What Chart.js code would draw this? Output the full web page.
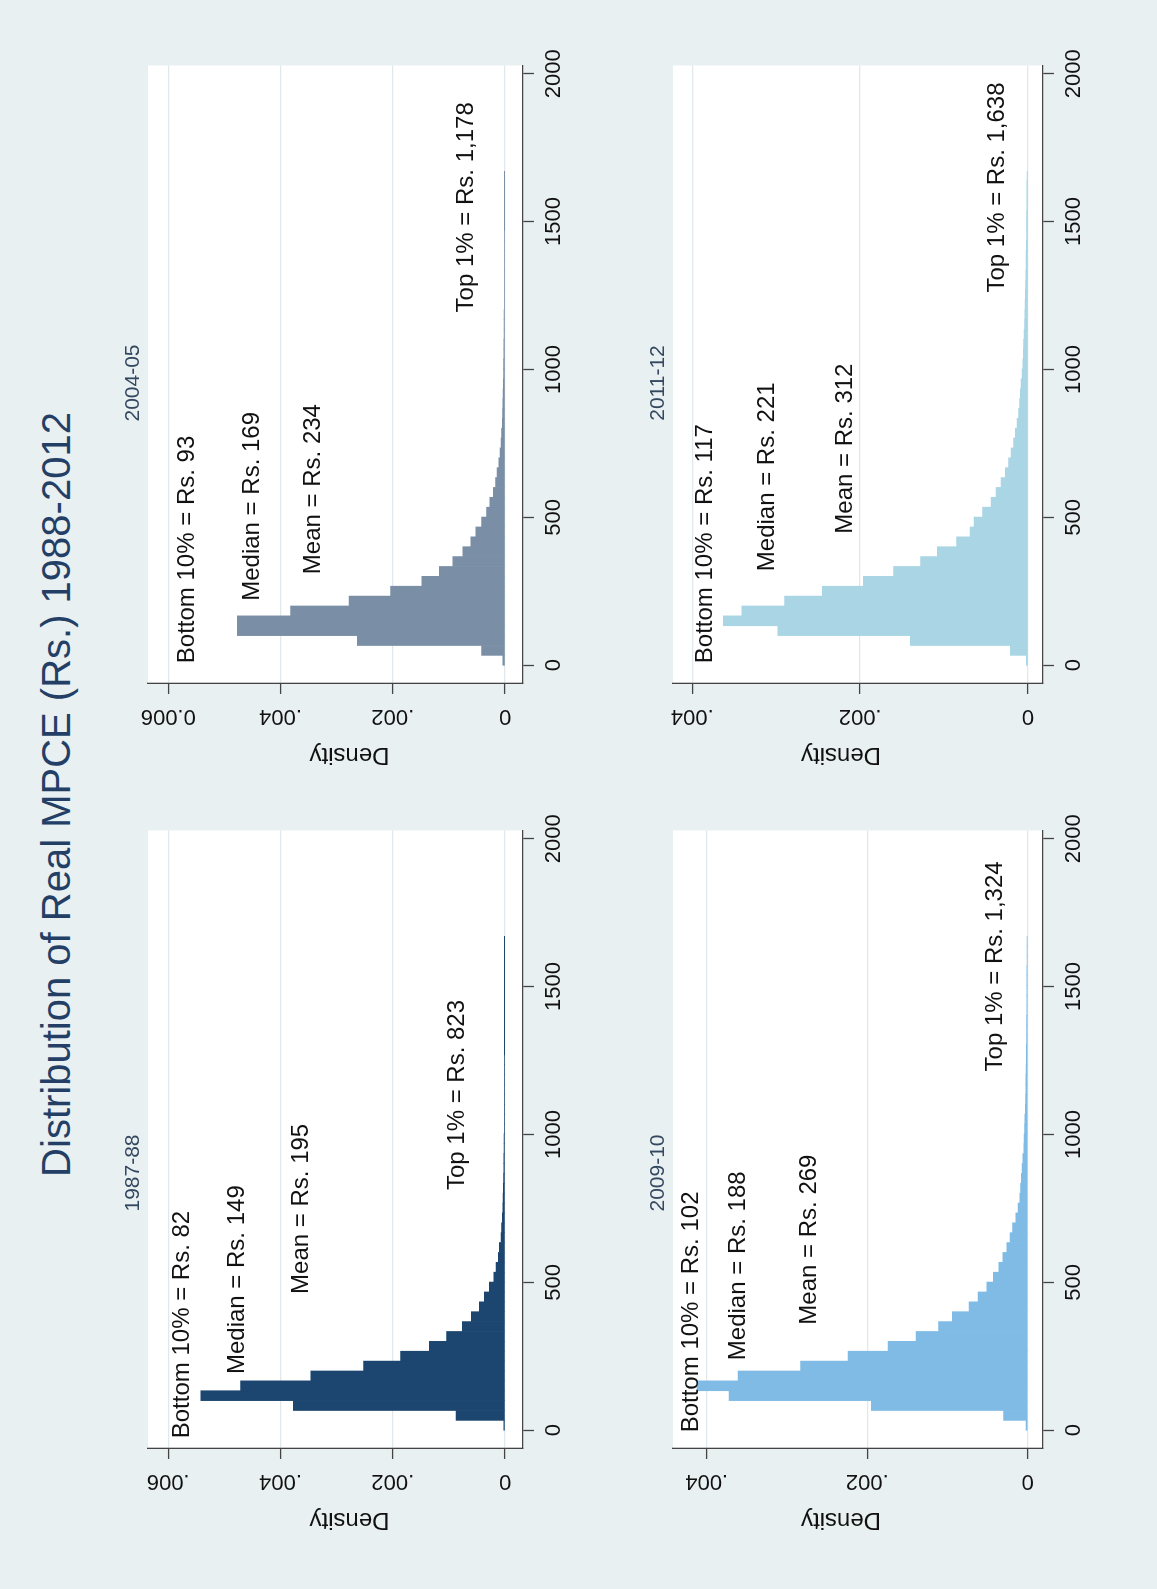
<!DOCTYPE html>
<html>
<head>
<meta charset="utf-8">
<script src="https://cdn.jsdelivr.net/npm/chart.js@4.4.0/dist/chart.umd.min.js"></script>
<style>
html, body { margin: 0; padding: 0; overflow: hidden; background: #e9f0f2; }
body { width: 1157px; height: 1589px; position: relative; }
#page {
    position: absolute; left: 0; top: 0;
    width: 1589px; height: 1157px;
    transform-origin: 0 0;
    transform: translate(0, 1589px) rotate(-90deg);
    background: #e9f0f2;
}
#title {
    position: absolute; left: 0; top: 34px; width: 1589px;
    text-align: center; line-height: 48px;
    font: 40px "Liberation Sans", Arial, sans-serif;
    color: #243f66;
}
canvas { position: absolute; }
</style>
</head>
<body>
<div id="page">
    <div id="title">Distribution of Real MPCE (Rs.) 1988-2012</div>
    <canvas id="chart1"></canvas>
    <canvas id="chart2"></canvas>
    <canvas id="chart3"></canvas>
    <canvas id="chart4"></canvas>
</div>
<script>
// histogram bins (Rs.), 50 bins starting at 0
const binStart = 0;
const binWidth = 33.4;

const years = ['1987-88', '2004-05', '2009-10', '2011-12'];
const xTicks = [0, 500, 1000, 1500, 2000];
const xTickLabels = ['0', '500', '1000', '1500', '2000'];

// density per bin
const density8788 = [
    0.00002, 0.00087, 0.00377, 0.00542, 0.00471, 0.00346, 0.00252, 0.00186, 0.00135, 0.00104,
    0.00076, 0.00060, 0.00046, 0.00037, 0.00028, 0.00020, 0.00016, 0.00012, 0.00010, 0.00007,
    0.00006, 0.00005, 0.00004, 0.000035, 0.00003, 0.000025, 0.000022, 0.00002, 0.000018, 0.000016,
    0.000014, 0.000013, 0.000012, 0.000011, 0.00001, 0.00001, 0.000009, 0.000009, 0.000008, 0.000008,
    0.000007, 0.000007, 0.000007, 0.000006, 0.000006, 0.000006, 0.000006, 0.000005, 0.000005, 0.000005
];
const density0405 = [
    0.00004, 0.00042, 0.00263, 0.00477, 0.00477, 0.00382, 0.00278, 0.00204, 0.00148, 0.00117,
    0.00093, 0.00075, 0.00061, 0.00052, 0.00042, 0.00033, 0.00027, 0.00021, 0.00017, 0.00014,
    0.00011, 0.00009, 0.00007, 0.00006, 0.00005, 0.000045, 0.00004, 0.000035, 0.00003, 0.000027,
    0.000024, 0.000022, 0.00002, 0.000018, 0.000016, 0.000015, 0.000014, 0.000013, 0.000012, 0.000011,
    0.00001, 0.00001, 0.000009, 0.000009, 0.000008, 0.000008, 0.000008, 0.000007, 0.000007, 0.000007
];
const density0910 = [
    0.00002, 0.00030, 0.00195, 0.00372, 0.00412, 0.00361, 0.00283, 0.00224, 0.00174, 0.00139,
    0.00111, 0.00094, 0.00073, 0.00062, 0.00051, 0.00043, 0.00036, 0.00031, 0.00026, 0.00022,
    0.00019, 0.00015, 0.00012, 0.00010, 0.00009, 0.00008, 0.00007, 0.00006, 0.00005, 0.000045,
    0.00004, 0.000035, 0.00003, 0.000028, 0.000025, 0.000023, 0.000021, 0.000019, 0.000017, 0.000016,
    0.000015, 0.000014, 0.000013, 0.000012, 0.000011, 0.00001, 0.00001, 0.000009, 0.000009, 0.000008
];
const density1112 = [
    0.00002, 0.00021, 0.00140, 0.00298, 0.00363, 0.00341, 0.00290, 0.00245, 0.00196, 0.00160,
    0.00128, 0.00108, 0.00085, 0.00069, 0.00064, 0.00054, 0.00044, 0.00038, 0.00032, 0.00027,
    0.00023, 0.00020, 0.00017, 0.00015, 0.00013, 0.00011, 0.00010, 0.00009, 0.00008, 0.00007,
    0.00006, 0.000055, 0.00005, 0.000045, 0.00004, 0.000036, 0.000033, 0.00003, 0.000027, 0.000025,
    0.000023, 0.000021, 0.000019, 0.000017, 0.000016, 0.000015, 0.000014, 0.000013, 0.000012, 0.000011
];

// y tick values and their labels
const yTicksTop = [0, 0.002, 0.004, 0.006];
const yTicksBottom = [0, 0.002, 0.004];
const yLabels8788 = ['0', '.002', '.004', '.006'];
const yLabels0405 = ['0', '.002', '.004', '0.006'];
const yLabels0910 = ['0', '.002', '.004'];
const yLabels1112 = ['0', '.002', '.004'];

// text notes: label, Rs. position, density position
const notes8788 = ['Bottom 10% = Rs. 82', 'Median = Rs. 149', 'Mean = Rs. 195', 'Top 1% = Rs. 823'];
const notesX8788 = [-27, 190, 461, 812];
const notesY8788 = [0.00575, 0.00476, 0.00362, 0.00085];
const notes0405 = ['Bottom 10% = Rs. 93', 'Median = Rs. 169', 'Mean = Rs. 234', 'Top 1% = Rs. 1,178'];
const notesX0405 = [7, 218, 308, 1193];
const notesY0405 = [0.00565, 0.0045, 0.00342, 0.00069];
const notes0910 = ['Bottom 10% = Rs. 102', 'Median = Rs. 188', 'Mean = Rs. 269', 'Top 1% = Rs. 1,324'];
const notesX0910 = [-7, 237, 357, 1213];
const notesY0910 = [0.00419, 0.00361, 0.00272, 0.0004];
const notes1112 = ['Bottom 10% = Rs. 117', 'Median = Rs. 221', 'Mean = Rs. 312', 'Top 1% = Rs. 1,638'];
const notesX1112 = [7, 318, 445, 1260];
const notesY1112 = [0.00385, 0.0031, 0.00218, 0.00036];

const FONT = '"Liberation Sans", Arial, sans-serif';
Chart.defaults.font.family = FONT;

// white plot region
const plotBg = {
    id: 'plotBg',
    beforeDraw(chart) {
        const a = chart.chartArea;
        chart.ctx.save();
        chart.ctx.fillStyle = '#ffffff';
        chart.ctx.fillRect(a.left, a.top, a.right - a.left, a.bottom - a.top);
        chart.ctx.restore();
    }
};

// text annotations in data coordinates, the panel year and the y axis title
const notesPlugin = {
    id: 'notes',
    afterDatasetsDraw(chart, args, opts) {
        const ctx = chart.ctx;
        const a = chart.chartArea;
        const xs = chart.scales.x, ys = chart.scales.y;
        ctx.save();
        ctx.font = '24px ' + FONT;
        ctx.fillStyle = '#111111';
        ctx.textAlign = 'left';
        ctx.textBaseline = 'middle';
        opts.text.forEach((t, i) => {
            ctx.fillText(t, xs.getPixelForValue(opts.x[i]), ys.getPixelForValue(opts.y[i]));
        });

        // panel year
        ctx.font = '21px ' + FONT;
        ctx.fillStyle = '#33475f';
        ctx.textAlign = 'center';
        ctx.fillText(opts.year, a.left + opts.yearAt, a.top - 15);

        // "Density" axis title
        ctx.font = '24px ' + FONT;
        ctx.fillStyle = '#111111';
        ctx.translate(a.left - 72, (a.top + a.bottom) / 2 + opts.titleShift);
        ctx.rotate(-Math.PI / 2);
        ctx.fillText('Density', 0, 0);
        ctx.restore();
    }
};

function binData(values) {
    return values.map((v, i) => ({ x: binStart + binWidth * (i + 0.5), y: v }));
}

function makeChart(id, p) {
    const cv = document.getElementById(id);
    const w = p.area[2] - p.area[0] + 127;
    const h = p.area[3] - p.area[1] + 120;
    cv.width = w;
    cv.height = h;
    cv.style.left = (p.area[0] - 111) + 'px';
    cv.style.top = (p.area[1] - 45) + 'px';

    return new Chart(cv, {
        type: 'bar',
        data: {
            datasets: [{
                data: binData(p.values),
                backgroundColor: p.color,
                borderWidth: 0,
                barPercentage: 1,
                categoryPercentage: 1
            }]
        },
        options: {
            responsive: false,
            animation: false,
            events: [],
            layout: { padding: { left: 20, right: 16, top: 45, bottom: 0 } },
            plugins: {
                legend: { display: false },
                tooltip: { enabled: false },
                title: { display: false },
                notes: {
                    text: p.notes, x: p.notesX, y: p.notesY,
                    year: p.year, yearAt: p.yearAt, titleShift: p.titleShift
                }
            },
            scales: {
                x: {
                    type: 'linear',
                    min: -60,
                    max: 2028,
                    offset: false,
                    afterBuildTicks: s => { s.ticks = xTicks.map(v => ({ value: v })); },
                    afterFit: s => { s.height = 75; },
                    grid: { display: true, drawOnChartArea: false, offset: false, tickLength: 11, tickColor: '#444', tickWidth: 1.3 },
                    border: { display: true, color: '#444', width: 1.3 },
                    ticks: {
                        color: '#111', font: { size: 22 }, padding: 7,
                        maxRotation: 0, autoSkip: false,
                        callback: (v, i) => xTickLabels[i]
                    }
                },
                y: {
                    min: p.yMin,
                    max: p.yMax,
                    afterBuildTicks: s => { s.ticks = p.yTicks.map(v => ({ value: v })); },
                    afterFit: s => { s.width = 91; },
                    grid: { color: '#e1e8eb', lineWidth: 1.2, tickLength: 11, tickColor: '#444', tickWidth: 1.3 },
                    border: { display: true, color: '#444', width: 1.3 },
                    ticks: {
                        color: '#111', font: { size: 22 },
                        minRotation: 90, maxRotation: 90,
                        crossAlign: 'center', padding: p.yPad,
                        autoSkip: false,
                        callback: (v, i) => p.yLabels[i]
                    }
                }
            }
        },
        plugins: [plotBg, notesPlugin]
    });
}

const chart1 = makeChart('chart1', {
    year: years[0], values: density8788, color: '#1c466f',
    area: [141, 148, 766, 523], yearAt: 275, titleShift: 14,
    yMin: -0.00032, yMax: 0.00636,
    yTicks: yTicksTop, yLabels: yLabels8788, yPad: 1,
    notes: notes8788, notesX: notesX8788, notesY: notesY8788
});
const chart2 = makeChart('chart2', {
    year: years[1], values: density0405, color: '#7a8ea6',
    area: [906, 148, 1531, 523], yearAt: 300, titleShift: 14,
    yMin: -0.00032, yMax: 0.00636,
    yTicks: yTicksTop, yLabels: yLabels0405, yPad: -5,
    notes: notes0405, notesX: notesX0405, notesY: notesY0405
});
const chart3 = makeChart('chart3', {
    year: years[2], values: density0910, color: '#7fbbe5',
    area: [141, 673, 766, 1043], yearAt: 275, titleShift: -17,
    yMin: -0.00019, yMax: 0.00442,
    yTicks: yTicksBottom, yLabels: yLabels0910, yPad: 1,
    notes: notes0910, notesX: notesX0910, notesY: notesY0910
});
const chart4 = makeChart('chart4', {
    year: years[3], values: density1112, color: '#a9d5e4',
    area: [906, 673, 1531, 1043], yearAt: 300, titleShift: -17,
    yMin: -0.00018, yMax: 0.00423,
    yTicks: yTicksBottom, yLabels: yLabels1112, yPad: 1,
    notes: notes1112, notesX: notesX1112, notesY: notesY1112
});
</script>
</body>
</html>
